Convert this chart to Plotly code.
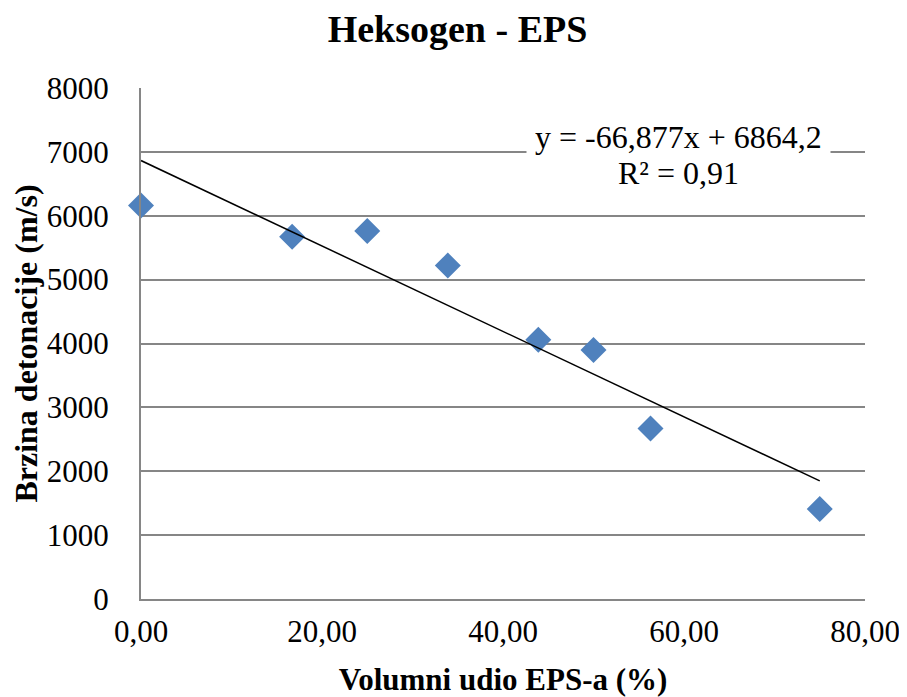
import plotly.graph_objects as go

x_vals = [0.0, 16.7, 25.0, 33.9, 43.9, 50.0, 56.3, 75.0]
y_vals = [6160, 5670, 5760, 5220, 4060, 3900, 2670, 1410]
slope = -66.877
intercept = 6864.2
trend_x = [0.0, 75.0]
trend_y = [intercept + slope * v for v in trend_x]
x_ticks = [0, 20, 40, 60, 80]
x_tick_labels = ["0,00", "20,00", "40,00", "60,00", "80,00"]
y_ticks = [0, 1000, 2000, 3000, 4000, 5000, 6000, 7000, 8000]
eq_text = "y = -66,877x + 6864,2"
r2_text = "R² = 0,91"

font_family = "Liberation Serif"

fig = go.Figure()
fig.add_trace(go.Scatter(
    x=x_vals, y=y_vals, mode="markers",
    marker=dict(symbol="diamond", size=20, color="#4F81BD", line=dict(width=0)),
    showlegend=False, cliponaxis=False,
))
fig.add_trace(go.Scatter(
    x=trend_x, y=trend_y, mode="lines",
    line=dict(color="black", width=1.5),
    showlegend=False,
))

fig.add_annotation(
    x=59.4, y=7000, xref="x", yref="y",
    text=eq_text, showarrow=False, yanchor="middle", yshift=15,
    bgcolor="white", borderpad=8,
    font=dict(family=font_family, size=32, color="black"),
)
fig.add_annotation(
    x=59.4, y=7000, xref="x", yref="y",
    text=r2_text, showarrow=False, yanchor="middle", yshift=-21,
    font=dict(family=font_family, size=32, color="black"),
)

fig.update_layout(
    width=899, height=689,
    margin=dict(l=133, r=42, t=80, b=98),
    paper_bgcolor="white", plot_bgcolor="white",
    title=dict(text="<b>Heksogen - EPS</b>", x=0.5, xanchor="center",
               y=1 - 21 / 689, yanchor="middle",
               font=dict(family=font_family, size=38, color="black")),
    font=dict(family=font_family, size=31, color="black"),
)
fig.update_xaxes(
    range=[0, 80], tickvals=x_ticks, ticktext=x_tick_labels,
    showgrid=False, zeroline=False, automargin=False,
    showline=True, linecolor="#868686", linewidth=2,
    ticks="", ticklen=0, ticklabelstandoff=4,
    title=dict(text="<b>Volumni udio EPS-a (%)</b>", standoff=32,
               font=dict(family=font_family, size=31)),
    tickfont=dict(family=font_family, size=31),
)
fig.update_yaxes(
    range=[0, 8000], tickvals=y_ticks,
    showgrid=True, gridcolor="#868686", gridwidth=1.5,
    zeroline=False, automargin=False,
    showline=True, linecolor="#868686", linewidth=2,
    ticks="", ticklen=0, ticklabelstandoff=24,
    title=dict(text="<b>Brzina detonacije (m/s)</b>", standoff=8,
               font=dict(family=font_family, size=32)),
    tickfont=dict(family=font_family, size=31),
)

fig.write_html("out.html")
